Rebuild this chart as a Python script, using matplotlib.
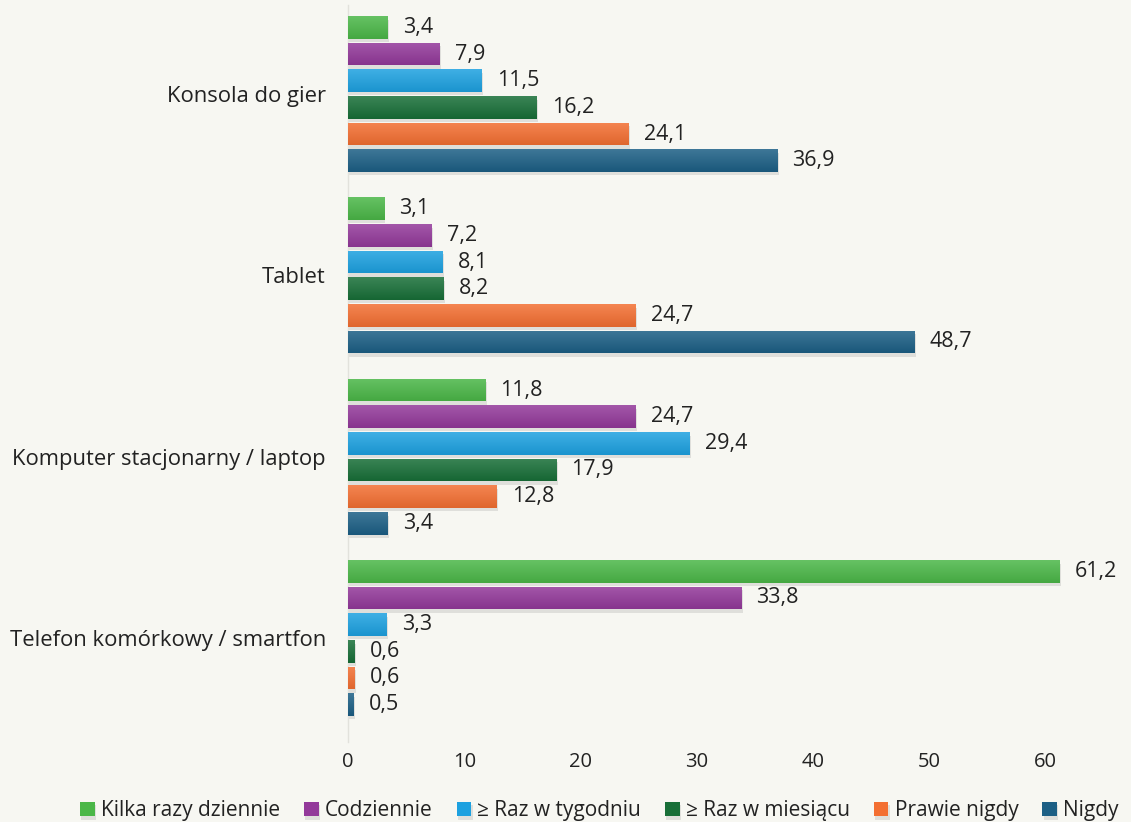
import numpy as np
import matplotlib.pyplot as plt
import matplotlib.colors as mcolors
from matplotlib import patheffects as pe

plt.rcParams['font.family'] = ['Open Sans', 'DejaVu Sans']

# categories bottom -> top
categories = ['Telefon komórkowy / smartfon', 'Komputer stacjonarny / laptop', 'Tablet', 'Konsola do gier']
series = ['Kilka razy dziennie', 'Codziennie', '≥ Raz w tygodniu', '≥ Raz w miesiącu', 'Prawie nigdy', 'Nigdy']
kilka = [61.2, 11.8, 3.1, 3.4]
codziennie = [33.8, 24.7, 7.2, 7.9]
tydzien = [3.3, 29.4, 8.1, 11.5]
miesiac = [0.6, 17.9, 8.2, 16.2]
prawie = [0.6, 12.8, 24.7, 24.1]
nigdy = [0.5, 3.4, 48.7, 36.9]
values = [kilka, codziennie, tydzien, miesiac, prawie, nigdy]
colors = ['#4bb748', '#93399a', '#1da1e0', '#186f38', '#f36f32', '#1c5f85']
bg = '#f7f7f2'

fig = plt.figure(figsize=(11.31, 8.22), dpi=100, facecolor=bg)
ax = fig.add_axes([0.3077, 0.0973, 0.689, 0.8966])
ax.set_facecolor(bg)

y = np.arange(len(categories))
pitch = 0.147
h = 0.124
handles = []
for i, (vals, col) in enumerate(zip(values, colors)):
    off = (2.5 - i) * pitch
    bars = ax.barh(y + off, vals, height=h, color=col, zorder=2,
                   label=series[i])
    handles.append(bars)
    # soft vertical gradient like the original
    base = np.array(mcolors.to_rgb(col))
    light = base + (1 - base) * 0.15
    dark = base * 0.92
    grad = np.linspace(0, 1, 32)[:, None, None]
    img = light[None, None, :] * (1 - grad) + dark[None, None, :] * grad
    for p, v in zip(bars.patches, vals):
        p.set_path_effects([pe.SimplePatchShadow(offset=(1, -2.5), alpha=0.13, shadow_rgbFace='#444444'), pe.Normal()])
        x0, y0, w, hh = p.get_x(), p.get_y(), p.get_width(), p.get_height()
        im = ax.imshow(img, extent=[x0, x0 + w, y0, y0 + hh], origin='upper',
                       aspect='auto', zorder=3, interpolation='bilinear')
        im.set_clip_path(p)
        ax.annotate(f'{v:.1f}'.replace('.', ','), (x0 + w, y0 + hh / 2),
                    xytext=(11, 0), textcoords='offset points', va='center',
                    ha='left', fontsize=15.5, color='#222222', zorder=4)

ax.set_xlim(0, 67)
ax.set_ylim(-0.574, 3.491)
ax.set_xticks([0, 10, 20, 30, 40, 50, 60])
ax.set_yticks(y)
ax.set_yticklabels(categories)
ax.tick_params(axis='y', length=0, pad=16, labelsize=15.8, labelcolor='#222222')
ax.tick_params(axis='x', length=0, pad=7, labelsize=14.5, labelcolor='#222222')
for s in ['top', 'right', 'bottom']:
    ax.spines[s].set_visible(False)
ax.spines['left'].set_color('#e2e2dc')
ax.spines['left'].set_linewidth(1)

fig.legend(handles=handles, labels=series, loc='lower center', ncol=6,
           bbox_to_anchor=(0.53, -0.022), frameon=False, fontsize=15,
           handlelength=0.7, handleheight=0.7, handletextpad=0.3,
           columnspacing=1.15, labelcolor='#222222')

fig.savefig('out.png', dpi=100, facecolor=bg)
